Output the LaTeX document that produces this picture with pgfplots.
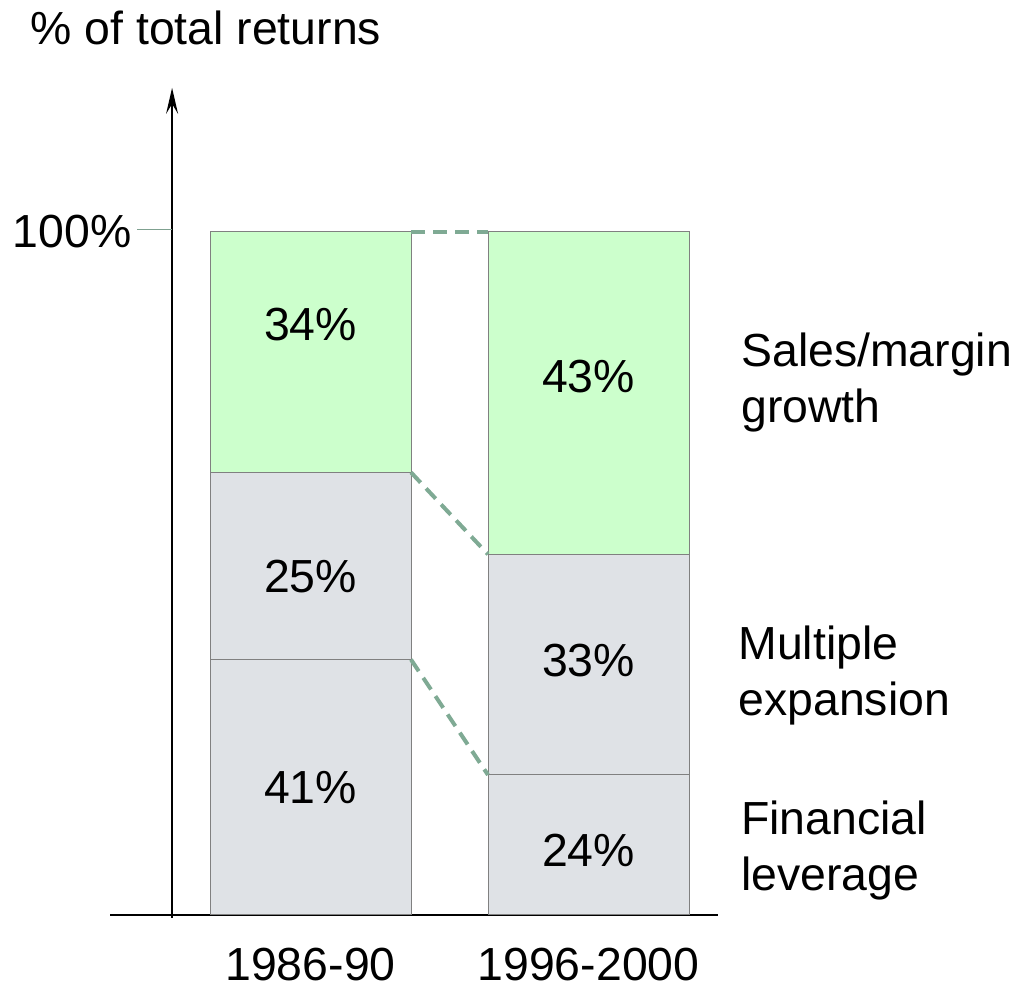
\documentclass[border=0pt]{standalone}
\usepackage{fontspec}
\setmainfont{Liberation Sans}
\usepackage{pgfplots}
\pgfplotsset{compat=1.18}
\usetikzlibrary{arrows.meta}
\definecolor{salesgreen}{HTML}{CCFFCC}
\definecolor{stackgray}{HTML}{DFE2E6}
\definecolor{edgegray}{HTML}{808080}
\definecolor{linksage}{HTML}{7FAA94}

% shared frame so both axes line up exactly
\pgfplotsset{frame/.style={x=139pt, y=3.415pt,
  xmin=-0.721, xmax=1.466, ymin=0, ymax=121.1, clip=false}}

\begin{document}
\begin{tikzpicture}[font=\fontsize{23.2}{28}\selectfont]
% stacked bars (heights as drawn in the source chart)
\begin{axis}[frame,
  ybar stacked, bar width=100.5pt,
  axis x line=bottom, axis y line=none,
  x axis line style={line width=1pt,-},
  xtick={0,1}, xticklabels={1986-90,1996-2000},
  major tick length=0pt,
  xticklabel style={anchor=base, yshift=-33pt},
  ytick=\empty,
]
\addplot[fill=stackgray, draw=edgegray, line width=0.5pt] coordinates {(0,37.4) (1,20.5)}; % financial leverage
\addplot[fill=stackgray, draw=edgegray, line width=0.5pt] coordinates {(0,27.4) (1,32.3)}; % multiple expansion
\addplot[fill=salesgreen, draw=edgegray, line width=0.5pt] coordinates {(0,35.2) (1,47.2)}; % sales/margin growth
\end{axis}

% overlay: connectors, y axis, annotations
\begin{axis}[frame, hide axis]
\addplot[linksage, line width=2pt, dash pattern=on 7pt off 4pt] coordinates {(0.3615,100) (0.6385,100)};
\addplot[linksage, line width=2pt, dash pattern=on 7pt off 4pt] coordinates {(0.3615,64.8) (0.6385,52.8)};
\addplot[linksage, line width=2pt, dash pattern=on 7pt off 4pt] coordinates {(0.3615,37.4) (0.6385,20.5)};

\draw[line width=0.8pt, -{Stealth[length=13pt,width=6pt,inset=5pt]}]
  (axis cs:-0.498,-0.4) -- (axis cs:-0.498,121.1);
\draw[linksage!80!gray, line width=0.6pt] (axis cs:-0.624,100.4) -- (axis cs:-0.498,100.4);
\node[anchor=east, inner sep=0pt] at (axis cs:-0.642,100) {100\%};
\node[anchor=west, inner sep=0pt] at (axis cs:-1.009,129.9) {\% of total returns};

\node at (axis cs:0,86.4) {34\%};
\node at (axis cs:0,49.5) {25\%};
\node at (axis cs:0,18.7) {41\%};
\node at (axis cs:1,78.9) {43\%};
\node at (axis cs:1,37.3) {33\%};
\node at (axis cs:1,9.5) {24\%};

\node[anchor=west, align=left, inner sep=0pt] at (axis cs:1.548,78.0) {Sales/margin\\growth};
\node[anchor=west, align=left, inner sep=0pt] at (axis cs:1.538,35.1) {Multiple\\expansion};
\node[anchor=west, align=left, inner sep=0pt] at (axis cs:1.548,9.5) {Financial\\leverage};

\path (axis cs:-1.117,-9.81) rectangle (axis cs:2.5486,133.97);
\end{axis}
\end{tikzpicture}
\end{document}
